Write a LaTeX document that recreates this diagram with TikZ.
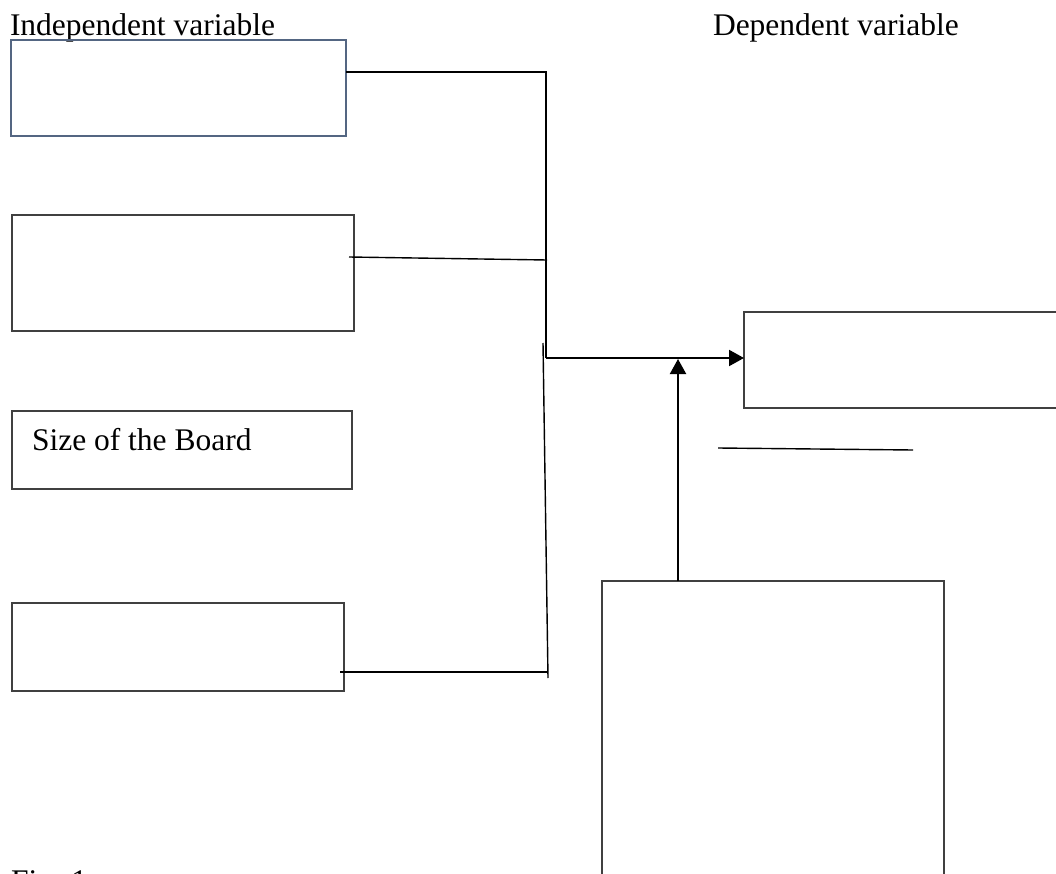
\documentclass[tikz,border=0pt]{standalone}
\usepackage{fontspec}
\setmainfont{Liberation Serif}
\usetikzlibrary{arrows.meta}
\definecolor{slate}{RGB}{84,102,130}
\begin{document}
\begin{tikzpicture}[x=1pt,y=-1pt,
  lbl/.style={inner sep=0pt, outer sep=0pt, anchor=base west, font=\fontsize{31.5}{36}\selectfont},
  box/.style={draw=black!75, line width=1.3pt, inner sep=0pt, outer sep=0pt, anchor=north west},
  conn/.style={draw=black, line width=1.4pt},
  arr/.style={draw=black, line width=2pt, -{Triangle[length=15pt,width=16pt]}}]
\useasboundingbox (0,0) rectangle (1056,874);
\clip (0,0) rectangle (1056,874);
% labels
\node[lbl] (tind) at (10,36) {Independent variable};
\node[lbl] (tdep) at (713,36) {Dependent variable};
\node[lbl] (tfig) at (11,891) {Fig. 1};
% boxes
\node[box, draw=slate, minimum width=335pt, minimum height=96pt] (b1) at (11,40) {};
\node[box, minimum width=342pt, minimum height=116pt] (b2) at (12,215) {};
\node[box, minimum width=340pt, minimum height=78pt] (b3) at (12,411) {};
\node[lbl] (t3) at (32,450) {Size of the Board};
\node[box, minimum width=332pt, minimum height=88pt] (b4) at (12,603) {};
\node[box, minimum width=330pt, minimum height=96pt] (b5) at (744,312) {};
\node[box, minimum width=342pt, minimum height=310pt] (b6) at (602,581) {};
% junction coordinates
\coordinate (j1) at (546,72);
\coordinate (j2) at (546,358);
\coordinate (j2b) at (547,260);
\coordinate (s1) at (543,343);
\coordinate (s2) at (548,678);
\coordinate (j4) at (548,672);
\coordinate (tip) at (678,359);
\coordinate (u1) at (718,448);
\coordinate (u2) at (913,450);
% connectors
\draw[conn] ([yshift=-32pt]b1.north east) -- (j1) -- (j2);
\draw[conn] ([xshift=-5pt,yshift=-42pt]b2.north east) -- (j2b);
\draw[conn] ([xshift=-4pt,yshift=-69pt]b4.north east) -- (j4);
\draw[conn] (s1) -- (s2);
\draw[arr] (j2) -- (j2 -| b5.west);
\draw[arr] (b6.north -| tip) -- (tip);
\draw[conn] (u1) -- (u2);
\end{tikzpicture}
\end{document}
